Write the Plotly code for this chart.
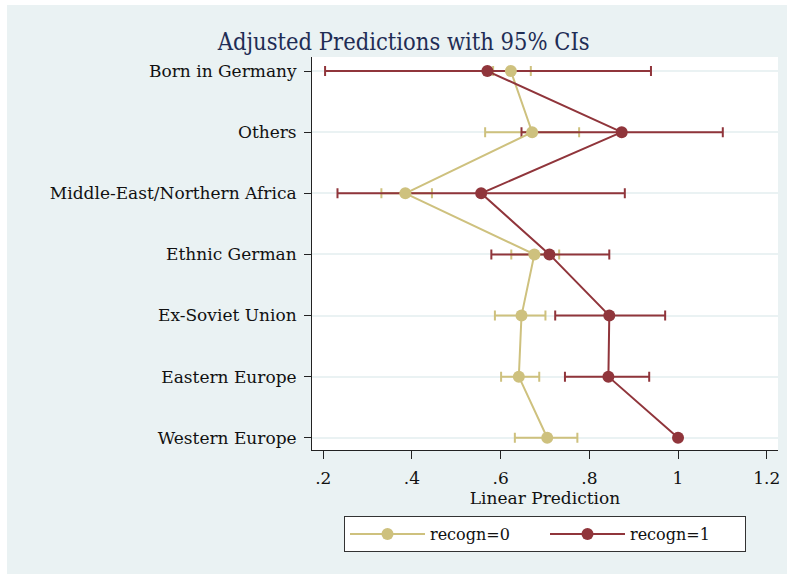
import plotly.graph_objects as go

categories = ["Born in Germany", "Others", "Middle-East/Northern Africa", "Ethnic German",
              "Ex-Soviet Union", "Eastern Europe", "Western Europe"]

r0_est = [0.623, 0.671, 0.385, 0.676, 0.647, 0.641, 0.705]
r0_lo = [0.583, 0.565, 0.331, 0.624, 0.587, 0.601, 0.632]
r0_hi = [0.668, 0.777, 0.445, 0.732, 0.701, 0.687, 0.773]

r1_est = [0.570, 0.873, 0.556, 0.710, 0.845, 0.843, 1.000]
r1_lo = [0.204, 0.647, 0.232, 0.579, 0.723, 0.745, 1.000]
r1_hi = [0.939, 1.101, 0.880, 0.845, 0.971, 0.935, 1.000]

x_ticks = [0.2, 0.4, 0.6, 0.8, 1.0, 1.2]
x_ticklabels = [".2", ".4", ".6", ".8", "1", "1.2"]

SAND = "#CEC17E"
MAROON = "#90353B"
BG = "#EAF2F3"
FONT = "DejaVu Serif"

fig = go.Figure()

def err_trace(est, lo, hi, color):
    return go.Scatter(
        x=est, y=categories, mode="markers",
        marker=dict(size=1, opacity=0, color=color),
        error_x=dict(type="data", symmetric=False,
                     array=[h - e for h, e in zip(hi, est)],
                     arrayminus=[e - l for e, l in zip(est, lo)],
                     color=color, thickness=2, width=5),
        showlegend=False, hoverinfo="skip")

fig.add_trace(err_trace(r0_est, r0_lo, r0_hi, SAND))
fig.add_trace(err_trace(r1_est, r1_lo, r1_hi, MAROON))

fig.add_trace(go.Scatter(x=r0_est, y=categories, mode="lines+markers", name="recogn=0",
                         line=dict(color=SAND, width=2),
                         marker=dict(color=SAND, size=12)))
fig.add_trace(go.Scatter(x=r1_est, y=categories, mode="lines+markers", name="recogn=1",
                         line=dict(color=MAROON, width=2),
                         marker=dict(color=MAROON, size=12)))

L, R, T, B = 312, 9, 57, 124
W, H = 787, 574
pw = W - L - R
ph = H - T - B

def px2paper_x(px):
    return (px - L) / pw

def px2paper_y(py):
    return (H - B - py) / ph

fig.add_shape(type="rect", xref="paper", yref="paper",
              x0=px2paper_x(7), x1=px2paper_x(787), y0=px2paper_y(574), y1=px2paper_y(5),
              fillcolor=BG, line=dict(width=0), layer="below")
fig.add_shape(type="rect", xref="paper", yref="paper",
              x0=0, x1=1, y0=0, y1=1,
              fillcolor="white", line=dict(width=0), layer="below")

fig.update_layout(
    width=W, height=H,
    margin=dict(l=L, r=R, t=T, b=B, pad=0),
    paper_bgcolor="white",
    plot_bgcolor="white",
    font=dict(family=FONT, size=17, color="#111111"),
    title=dict(text="Adjusted Predictions with 95% CIs", x=0.513, xanchor="center",
               y=1 - 42 / H, yanchor="middle",
               font=dict(family="DejaVu Serif Condensed, Liberation Serif", size=23.5, color="#1F2D55")),
    xaxis=dict(range=[0.1745, 1.2255], tickvals=x_ticks, ticktext=x_ticklabels,
               showgrid=False, zeroline=False, showline=True, linecolor="#222222", linewidth=1,
               ticks="outside", ticklen=8, tickcolor="#222222", automargin=False,
               ticklabelstandoff=5,
               title=dict(text="Linear Prediction", standoff=0, font=dict(size=17)),
               tickfont=dict(size=17)),
    yaxis=dict(type="category", categoryorder="array", categoryarray=categories,
               range=[6.2, -0.23], showgrid=True, gridcolor=BG, gridwidth=2,
               zeroline=False, showline=True, linecolor="#222222", linewidth=1,
               ticks="outside", ticklen=7, tickcolor="#222222", automargin=False,
               ticklabelstandoff=4,
               tickfont=dict(size=17)),
    legend=dict(orientation="h", x=0.5, xanchor="center", y=px2paper_y(516), yanchor="top",
                bgcolor="white", bordercolor="#333333", borderwidth=1,
                font=dict(size=16), itemwidth=75, entrywidth=110, tracegroupgap=0),
    showlegend=True,
)

fig.write_html("out.html", config={"displayModeBar": False},
               post_script="document.body.style.margin='0';document.body.style.padding='0';")
